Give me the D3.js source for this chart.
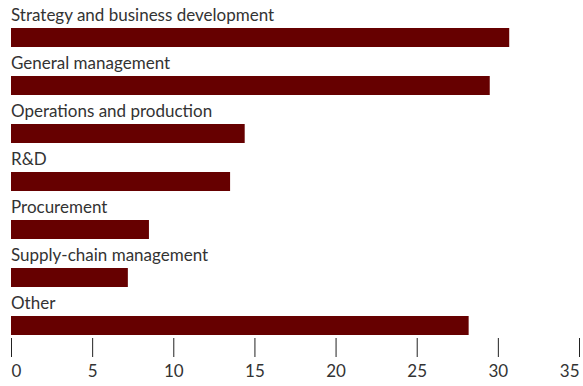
<!DOCTYPE html>
<html>
<head>
<meta charset="utf-8">
<script src="https://cdn.jsdelivr.net/npm/d3@7"></script>
<style>
  html, body { margin: 0; padding: 0; background: #fff; }
  text { font-family: Lato, "Noto Sans", sans-serif; }
</style>
</head>
<body>
<svg id="chart" width="583" height="386"></svg>
<script>
// Share of respondents by function, %
const categories = [
  "Strategy and business development",
  "General management",
  "Operations and production",
  "R&D",
  "Procurement",
  "Supply-chain management",
  "Other"
];
const values = [30.7, 29.5, 14.4, 13.5, 8.5, 7.2, 28.2];
const tickValues = [0, 5, 10, 15, 20, 25, 30, 35];

const svg = d3.select("#chart");

const x = d3.scaleLinear().domain([0, 35]).range([11, 579]);
const y = d3.scaleBand().domain(categories).range([4, 340]).paddingInner(0).paddingOuter(0);

const barH = 19;
const row = svg.selectAll("g.row")
  .data(categories.map((c, i) => ({ c, v: values[i] })))
  .join("g")
  .attr("class", "row")
  .attr("transform", d => `translate(0,${y(d.c)})`);

row.append("text")
  .attr("x", x(0))
  .attr("y", 17)
  .attr("fill", "#333")
  .style("font-size", "17px")
  .text(d => d.c);

row.append("rect")
  .attr("x", x(0))
  .attr("y", 24)
  .attr("width", d => x(d.v) - x(0))
  .attr("height", barH)
  .attr("fill", "#660000");

const axis = d3.axisBottom(x)
  .tickValues(tickValues)
  .tickSize(19)
  .tickPadding(8)
  .tickFormat(d3.format("d"));

const gx = svg.append("g")
  .attr("transform", "translate(0,338)")
  .call(axis);
gx.select(".domain").remove();
gx.selectAll(".tick line").attr("stroke", "#222").attr("stroke-width", 1);
gx.selectAll(".tick text")
  .attr("fill", "#333")
  .style("font-size", "17px")
  .style("font-family", "Lato, 'Noto Sans', sans-serif")
  .attr("text-anchor", (d, i, n) => i === 0 ? "start" : i === n.length - 1 ? "end" : "middle");
</script>
</body>
</html>
